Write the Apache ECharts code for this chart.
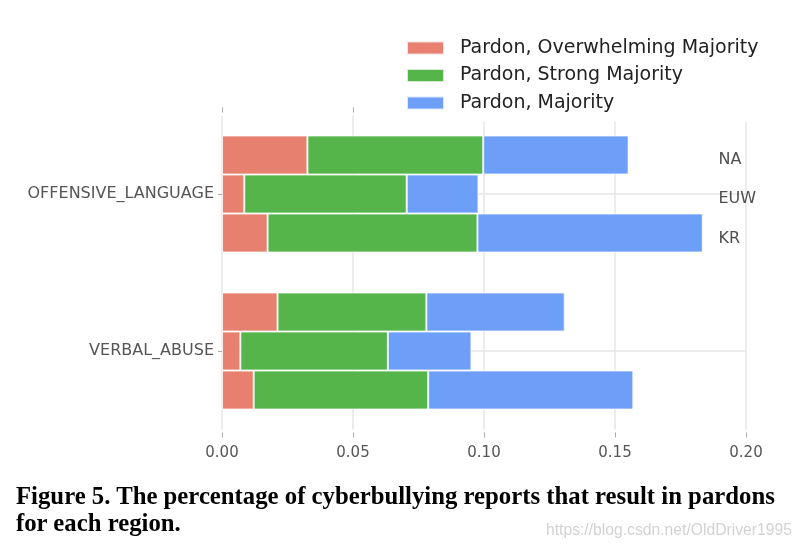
<!DOCTYPE html>
<html><head><meta charset="utf-8">
<script src="https://cdn.jsdelivr.net/npm/echarts@6/dist/echarts.min.js"></script>
<style>html,body{margin:0;padding:0;background:#fff;}#c{width:804px;height:548px;position:relative;}
.cap{position:absolute;left:16px;top:483px;font-family:"Liberation Serif","Times New Roman",serif;font-weight:bold;font-size:24.75px;line-height:26.6px;color:#000;white-space:nowrap;}
.wm{position:absolute;left:546px;top:521px;font-family:"Liberation Sans",Arial,sans-serif;font-size:15.7px;line-height:18px;color:#d2d2d2;white-space:nowrap;}
</style></head>
<body><div id="c"></div>
<div class="cap">Figure 5. The percentage of cyberbullying reports that result in pardons<br>for each region.</div>
<div class="wm">https://blog.csdn.net/OldDriver1995</div>
<script>
const categories = ['OFFENSIVE_LANGUAGE', 'VERBAL_ABUSE'];
const regions = ['NA', 'EUW', 'KR'];
const legendNames = ['Pardon, Overwhelming Majority', 'Pardon, Strong Majority', 'Pardon, Majority'];
// cumulative values: [OFFENSIVE_LANGUAGE, VERBAL_ABUSE]
const overwhelming = { NA: [0.0326, 0.0212], EUW: [0.0085, 0.0070], KR: [0.0174, 0.0121] };
const strong =       { NA: [0.0997, 0.0780], EUW: [0.0705, 0.0633], KR: [0.0975, 0.0787] };
const majority =     { NA: [0.1552, 0.1308], EUW: [0.0979, 0.0952], KR: [0.1835, 0.1570] };
const xTicks = [0, 0.05, 0.10, 0.15, 0.20];
const colors = ['#e8806f', '#55b54b', '#6d9ef8'];

const chart = echarts.init(document.getElementById('c'));
const series = [];
regions.forEach(r => {
  const cum = [overwhelming[r], strong[r], majority[r]];
  cum.forEach((arr, k) => {
    series.push({
      name: legendNames[k], type: 'bar', stack: r, barWidth: 39, barGap: '0%',
      z: 2,
      itemStyle: { color: colors[k], borderColor: 'rgba(255,255,255,0.75)', borderWidth: 1 },
      data: arr.map((v, i) => +(v - (k ? cum[k - 1][i] : 0)).toFixed(4))
    });
  });
});
const offs = [-34, 5, 45];
regions.forEach((r, i) => {
  series.push({
    type: 'scatter', symbolSize: 0, silent: true, z: 5,
    data: [[0.1895, categories[0]]],
    label: { show: true, formatter: r, position: 'inside', align: 'left', offset: [0, offs[i]],
      fontFamily: 'DejaVu Sans', fontSize: 16, color: '#222' }
  });
});
chart.setOption({
  animation: false,
  color: colors,
  textStyle: { fontFamily: 'DejaVu Sans' },
  grid: { left: 222, right: 58, top: 115.5, bottom: 118.5 },
  legend: {
    data: legendNames, orient: 'vertical', left: 396, top: 28.5,
    itemWidth: 37, itemHeight: 13, itemGap: 8.5, z: 10,
    backgroundColor: '#fff', padding: [10, 12, 9, 10],
    textStyle: { fontFamily: 'DejaVu Sans', fontSize: 19, color: '#222', padding: [0, 0, 0, 11] },
    icon: 'rect'
  },
  xAxis: [{
    type: 'value', min: 0, max: 0.2, interval: 0.05, position: 'bottom', offset: 3,
    axisLine: { show: false },
    axisTick: { show: true, length: 5, lineStyle: { color: '#aaa' } },
    axisLabel: { formatter: v => v.toFixed(2), fontSize: 15, color: '#555', margin: 13, fontFamily: 'DejaVu Sans' },
    splitLine: { show: true, lineStyle: { color: '#e6e6e6', width: 1.5 } }
  }, {
    type: 'value', min: 0, max: 0.2, interval: 0.05, position: 'top', offset: 3,
    axisLine: { show: false },
    axisTick: { show: true, length: 5, lineStyle: { color: '#aaa' } },
    axisLabel: { show: false }, splitLine: { show: false }
  }],
  yAxis: [{
    type: 'category', data: categories, inverse: true, position: 'left', offset: 2,
    axisLine: { show: false },
    axisTick: { show: true, alignWithLabel: true, length: 4, lineStyle: { color: '#aaa' } },
    axisLabel: { fontSize: 16, color: '#555', margin: 6, fontFamily: 'DejaVu Sans' },
    splitLine: { show: true, alignWithLabel: true, lineStyle: { color: '#e6e6e6', width: 1.5 } }
  }, {
    type: 'category', data: categories, inverse: true, position: 'right', offset: 2,
    axisLine: { show: false },
    axisTick: { show: true, alignWithLabel: true, length: 5, lineStyle: { color: '#aaa' } },
    axisLabel: { show: false }, splitLine: { show: false }
  }],
  series: series
});
</script></body></html>
